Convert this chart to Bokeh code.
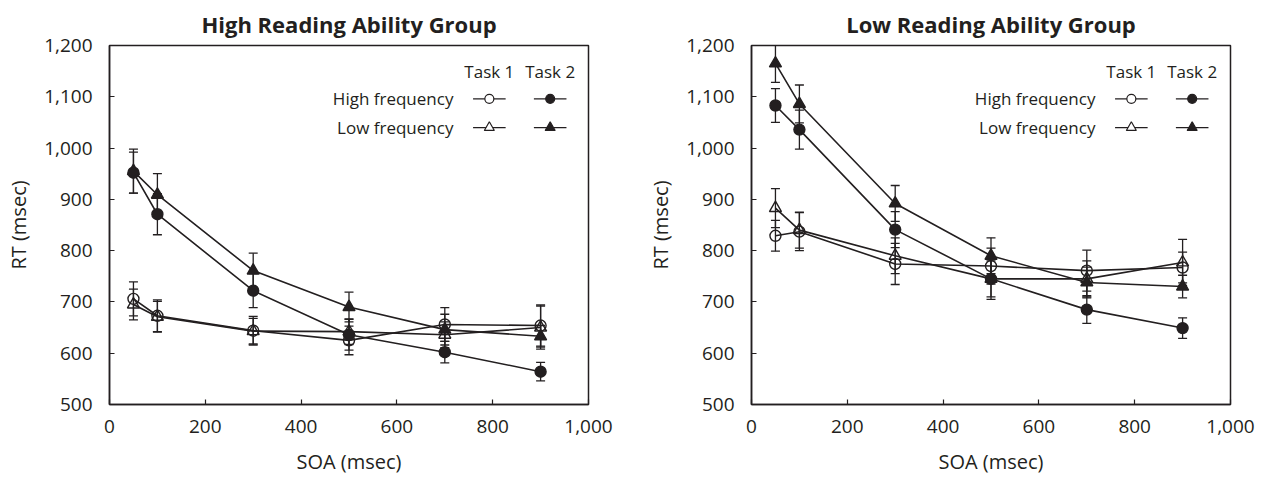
from bokeh.plotting import figure
from bokeh.layouts import row
from bokeh.models import Range1d, NumeralTickFormatter, Whisker, TeeHead, ColumnDataSource, FixedTicker
from bokeh.core.properties import value
from bokeh.embed import file_html
from bokeh.resources import INLINE

# ---------------- data ----------------
soa = [50, 100, 300, 500, 700, 900]
x_ticks = [0, 200, 400, 600, 800, 1000]
y_ticks = [500, 600, 700, 800, 900, 1000, 1100, 1200]

# High reading ability group
high_hf_t1 = [706, 673, 644, 625, 656, 654]
high_hf_t1_err = [33, 31, 28, 28, 33, 40]
high_lf_t1 = [695, 671, 643, 642, 636, 650]
high_lf_t1_err = [30, 30, 25, 25, 25, 42]
high_hf_t2 = [952, 871, 722, 636, 602, 564]
high_hf_t2_err = [40, 40, 33, 30, 21, 18]
high_lf_t2 = [955, 909, 761, 690, 646, 633]
high_lf_t2_err = [43, 41, 34, 29, 30, 21]

# Low reading ability group
low_hf_t1 = [829, 837, 774, 770, 761, 767]
low_hf_t1_err = [30, 37, 40, 35, 40, 30]
low_lf_t1 = [883, 840, 790, 745, 745, 777]
low_lf_t1_err = [38, 35, 35, 40, 35, 45]
low_hf_t2 = [1083, 1036, 841, 745, 685, 649]
low_hf_t2_err = [33, 38, 35, 35, 27, 20]
low_lf_t2 = [1165, 1086, 892, 790, 738, 730]
low_lf_t2_err = [37, 37, 35, 35, 30, 22]

titles = ["High Reading Ability Group", "Low Reading Ability Group"]
task_labels = ["Task 1", "Task 2"]
freq_labels = ["High frequency", "Low frequency"]

FONT = "Open Sans"
INK = "#231f20"


def make_panel(title, series, width, bl, br):
    p = figure(width=width, height=477,
               x_range=Range1d(0, 1000), y_range=Range1d(500, 1200),
               output_backend="svg", toolbar_location=None,
               min_border_left=bl, min_border_right=br,
               min_border_top=45, min_border_bottom=68)
    p.title.text = title
    p.title.align = "center"
    p.title.vertical_align = "top"
    p.title.text_font = FONT
    p.title.text_font_size = "22px"
    p.title.text_font_style = "bold"
    p.title.text_color = INK
    p.title.standoff = 10
    p.grid.visible = False
    p.outline_line_color = INK
    p.outline_line_width = 1.5
    p.outline_line_alpha = 1.0
    p.background_fill_color = "white"
    p.border_fill_color = "white"

    p.xaxis.ticker = FixedTicker(ticks=x_ticks)
    p.yaxis.ticker = FixedTicker(ticks=y_ticks)
    for ax in (p.xaxis, p.yaxis):
        ax.formatter = NumeralTickFormatter(format="0,0")
        ax.axis_line_color = INK
        ax.axis_line_width = 1.5
        ax.major_tick_line_color = INK
        ax.major_tick_line_width = 1.2
        ax.major_tick_in = 5
        ax.major_tick_out = 0
        ax.minor_tick_line_color = None
        ax.major_label_text_font = FONT
        ax.major_label_text_font_size = "19px"
        ax.major_label_text_color = INK
        ax.axis_label_text_font = FONT
        ax.axis_label_text_font_size = "20px"
        ax.axis_label_text_font_style = "normal"
        ax.axis_label_text_color = INK
    p.xaxis.axis_label = "SOA (msec)"
    p.yaxis.axis_label = "RT (msec)"
    p.xaxis.major_label_standoff = 15
    p.xaxis.axis_label_standoff = 12
    p.yaxis.major_label_standoff = 17
    p.yaxis.axis_label_standoff = 9

    srcs = []
    for ys, errs, marker, filled in series:
        src = ColumnDataSource(dict(
            x=soa, y=ys,
            upper=[a + b for a, b in zip(ys, errs)],
            lower=[a - b for a, b in zip(ys, errs)]))
        srcs.append((src, marker, filled))
        p.line("x", "y", source=src, line_color=INK, line_width=1.6)
    for src, marker, filled in srcs:
        p.add_layout(Whisker(source=src, base="x", upper="upper", lower="lower",
                             line_color=INK, line_width=1.3,
                             upper_head=TeeHead(size=9, line_color=INK, line_width=1.3),
                             lower_head=TeeHead(size=9, line_color=INK, line_width=1.3)))
    for src, marker, filled in srcs:
        p.scatter("x", "y", source=src, marker=marker,
                  size=11 if marker == "circle" else 12,
                  fill_color=INK if filled else None,
                  line_color=INK, line_width=1.4)

    # legend (drawn inside the plot, in data units)
    col_x = [793, 920]
    head_y = 1150
    row_y = [1096, 1040]
    p.text(x=col_x, y=[head_y, head_y], text=task_labels,
           text_align="center", text_baseline="middle",
           text_font=value(FONT), text_font_size="17px", text_color=INK)
    p.text(x=[718, 718], y=row_y, text=freq_labels,
           text_align="right", text_baseline="middle",
           text_font=value(FONT), text_font_size="17px", text_color=INK)
    lx, ly, lm, lf = [], [], [], []
    for ri, m in enumerate(["circle", "triangle"]):
        for ci, f in enumerate([False, True]):
            lx.append(col_x[ci]); ly.append(row_y[ri]); lm.append(m); lf.append(f)
    p.segment(x0=[v - 34 for v in lx], y0=ly, x1=[v + 34 for v in lx], y1=ly,
              line_color=INK, line_width=1.3)
    for x_, y_, m, f in zip(lx, ly, lm, lf):
        p.scatter([x_], [y_], marker=m, size=9 if m == "circle" else 10,
                  fill_color=INK if f else "white", line_color=INK, line_width=1.2)
    return p


left = make_panel(titles[0], [
    (high_hf_t1, high_hf_t1_err, "circle", False),
    (high_lf_t1, high_lf_t1_err, "triangle", False),
    (high_hf_t2, high_hf_t2_err, "circle", True),
    (high_lf_t2, high_lf_t2_err, "triangle", True),
], 628, 109, 40)

right = make_panel(titles[1], [
    (low_hf_t1, low_hf_t1_err, "circle", False),
    (low_lf_t1, low_lf_t1_err, "triangle", False),
    (low_hf_t2, low_hf_t2_err, "circle", True),
    (low_lf_t2, low_lf_t2_err, "triangle", True),
], 630, 123, 28)

layout = row(left, right)
open("out.html", "w").write(file_html(layout, INLINE))
